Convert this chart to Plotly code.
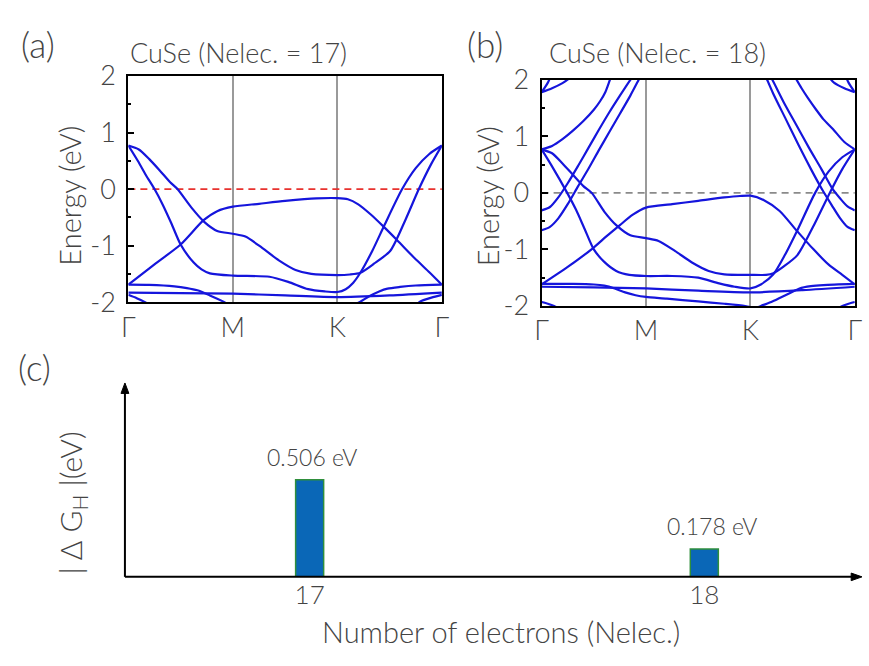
import plotly.graph_objects as go

W, H = 869, 666

# ---------------- data ----------------
# k-path positions (Γ=0, M=1, K=2, Γ=3), energies in eV
k_ticks = [0, 1, 2, 3]
k_labels = ["Γ", "M", "K", "Γ"]
e_ticks = [-2, -1, 0, 1, 2]
e_labels = ["-2", "-1", "0", "1", "2"]

# Panel (a): CuSe, Nelec = 17
a_R = [(0, -1.69), (0.25, -1.33), (0.5, -0.98), (0.72, -0.55), (0.85, -0.39), (1.0, -0.31), (1.25, -0.26),
       (1.5, -0.21), (1.8, -0.165), (2.0, -0.16), (2.1, -0.18), (2.2, -0.27), (2.32, -0.45), (2.44, -0.66),
       (2.57, -0.9), (2.76, -1.26), (2.88, -1.47), (3.0, -1.69)]
a_P = [(0, 0.77), (0.1, 0.70), (0.2, 0.53), (0.3, 0.33), (0.4, 0.12), (0.47, 0.0), (0.6, -0.32), (0.72, -0.57),
       (0.85, -0.74), (1.0, -0.79), (1.12, -0.84), (1.28, -1.04), (1.44, -1.26), (1.6, -1.43), (1.75, -1.50),
       (2.0, -1.52), (2.12, -1.51), (2.22, -1.48), (2.35, -1.32), (2.507, -1.09), (2.65, -0.55), (2.78, 0.0),
       (2.9, 0.45), (3.0, 0.77)]
a_Q = [(0, 0.77), (0.09, 0.50), (0.17, 0.24), (0.25, 0.0), (0.33, -0.28), (0.41, -0.60), (0.5, -0.98),
       (0.625, -1.30), (0.7, -1.42), (0.78, -1.49), (1.0, -1.53), (1.35, -1.55), (1.53, -1.64), (1.72, -1.77),
       (1.88, -1.81), (2.0, -1.82), (2.08, -1.77), (2.15, -1.66), (2.22, -1.48), (2.335, -1.09), (2.45, -0.64),
       (2.62, 0.0), (2.75, 0.37), (2.88, 0.62), (3.0, 0.77)]
a_B1 = [(0, -1.69), (0.2, -1.695), (0.44, -1.72), (0.56, -1.75), (0.66, -1.79), (0.78, -1.88), (0.91, -1.99),
        (0.96, -2.04)]
a_B2 = [(0, -1.83), (0.5, -1.84), (1.0, -1.85), (1.5, -1.88), (2.0, -1.91), (2.5, -1.88), (3.0, -1.83)]
a_B3 = [(0, -1.87), (0.08, -1.93), (0.16, -2.0), (0.2, -2.04)]
a_B4 = [(2.15, -2.05), (2.22, -1.99), (2.3, -1.9), (2.4, -1.81), (2.48, -1.76), (2.6, -1.73), (2.75, -1.705),
        (3.0, -1.69)]
a_B5 = [(2.75, -2.05), (2.79, -1.99), (2.9, -1.92), (3.0, -1.87)]

# Panel (b): CuSe, Nelec = 18
b_R = [(0, -1.62), (0.25, -1.31), (0.49, -0.98), (0.62, -0.77), (0.75, -0.57), (0.87, -0.39), (1.0, -0.26),
       (1.25, -0.2), (1.5, -0.14), (1.75, -0.08), (1.9, -0.055), (2.0, -0.05), (2.13, -0.13), (2.28, -0.32),
       (2.44, -0.66), (2.6, -0.99), (2.75, -1.27), (2.88, -1.45), (3.0, -1.62)]
b_P = [(0, 0.77), (0.1, 0.70), (0.2, 0.52), (0.3, 0.32), (0.4, 0.12), (0.48, 0.0), (0.6, -0.33), (0.72, -0.58),
       (0.85, -0.75), (1.0, -0.80), (1.12, -0.85), (1.28, -1.03), (1.44, -1.23), (1.6, -1.38), (1.75, -1.44),
       (2.0, -1.45), (2.15, -1.45), (2.22, -1.42), (2.32, -1.3), (2.45, -1.10), (2.6, -0.6), (2.76, 0.0),
       (2.88, 0.42), (3.0, 0.77)]
b_Q = [(0, 0.77), (0.09, 0.5), (0.245, 0.0), (0.33, -0.3), (0.41, -0.63), (0.5, -1.0), (0.6, -1.22),
       (0.715, -1.38), (0.84, -1.45), (1.0, -1.47), (1.25, -1.47), (1.5, -1.5), (1.7, -1.6), (1.85, -1.66),
       (2.0, -1.69), (2.1, -1.62), (2.22, -1.44), (2.33, -1.10), (2.45, -0.66), (2.62, 0.0), (2.75, 0.38),
       (2.88, 0.63), (3.0, 0.77)]
b_S1 = [(0, -0.31), (0.08, -0.25), (0.16, -0.08), (0.25, 0.17), (0.35, 0.48), (0.45, 0.8), (0.55, 1.12),
        (0.65, 1.43), (0.75, 1.72), (0.85, 2.0), (0.87, 2.05)]
b_S2 = [(0, -0.66), (0.08, -0.6), (0.16, -0.45), (0.25, -0.2), (0.35, 0.12), (0.45, 0.43), (0.55, 0.76),
        (0.65, 1.08), (0.75, 1.4), (0.85, 1.72), (0.93, 2.0), (0.95, 2.07)]
b_S1r = [(3.0, -0.31), (2.93, -0.24), (2.86, -0.1), (2.79, 0.06), (2.68, 0.42), (2.56, 0.8), (2.44, 1.2),
         (2.32, 1.6), (2.21, 2.0), (2.19, 2.06)]
b_S2r = [(3.0, -0.66), (2.93, -0.6), (2.86, -0.45), (2.78, -0.22), (2.69, 0.05), (2.58, 0.42), (2.46, 0.85),
         (2.34, 1.3), (2.22, 1.75), (2.16, 2.0), (2.14, 2.07)]
b_U1 = [(0, 0.77), (0.1, 0.83), (0.2, 0.95), (0.3, 1.1), (0.4, 1.27), (0.5, 1.47), (0.56, 1.62), (0.61, 1.78),
        (0.66, 2.03)]
b_U1r = [(3.0, 0.77), (2.9, 0.9), (2.79, 1.13), (2.7, 1.3), (2.63, 1.47), (2.55, 1.68), (2.49, 1.85),
         (2.43, 2.04)]
b_T1 = [(0, 1.78), (0.1, 1.85), (0.2, 1.94), (0.27, 2.03)]
b_T2 = [(0, 1.78), (0.03, 1.86), (0.06, 1.95), (0.08, 2.03)]
b_T1r = [(3.0, 1.78), (2.9, 1.85), (2.8, 1.95), (2.76, 2.03)]
b_T2r = [(3.0, 1.78), (2.97, 1.86), (2.94, 1.95), (2.92, 2.03)]
b_B1 = [(0, -1.61), (0.3, -1.61), (0.5, -1.62), (0.6, -1.64), (0.7, -1.69), (0.8, -1.76), (0.9, -1.81),
        (1.0, -1.84), (1.2, -1.87), (1.5, -1.92), (1.75, -1.96), (1.95, -2.0), (2.05, -2.04)]
b_B2 = [(0, -1.66), (0.5, -1.67), (1.0, -1.69), (1.5, -1.73), (2.0, -1.76), (2.5, -1.72), (3.0, -1.66)]
b_B3 = [(0, -1.93), (0.06, -1.96), (0.12, -2.0), (0.16, -2.04)]
b_B4 = [(2.05, -2.04), (2.1, -2.0), (2.2, -1.93), (2.28, -1.86), (2.38, -1.77), (2.47, -1.69), (2.58, -1.65),
        (2.7, -1.63), (3.0, -1.61)]
b_B5 = [(2.84, -2.04), (2.88, -2.0), (2.94, -1.96), (3.0, -1.93)]

bands_a = [a_R, a_P, a_Q, a_B1, a_B2, a_B3, a_B4, a_B5]
bands_b = [b_R, b_P, b_Q, b_S1, b_S2, b_S1r, b_S2r, b_U1, b_U1r, b_T1, b_T2, b_T1r, b_T2r,
           b_B1, b_B2, b_B3, b_B4, b_B5]

# Panel (c)
nelec = [17, 18]
dG = [0.506, 0.178]
dG_labels = ["0.506 eV", "0.178 eV"]

# ---------------- figure ----------------
def px(x):
    return x / W


def py(y):
    return 1 - y / H


FONT = "Lato, 'Open Sans', sans-serif"
TXT = "#444444"
BAND = "#1515dc"

fig = go.Figure()

# Fermi levels
fig.add_trace(go.Scatter(x=[0, 3], y=[0, 0], mode="lines", xaxis="x", yaxis="y",
                         line=dict(color="#e8322e", width=1.6, dash="7px,5px"), hoverinfo="skip",
                         showlegend=False))
fig.add_trace(go.Scatter(x=[0, 3], y=[0, 0], mode="lines", xaxis="x2", yaxis="y2",
                         line=dict(color="#8a8a8a", width=1.6, dash="7px,5px"), hoverinfo="skip",
                         showlegend=False))

for axes, bands in ((("x", "y"), bands_a), (("x2", "y2"), bands_b)):
    for band in bands:
        fig.add_trace(go.Scatter(x=[p[0] for p in band], y=[p[1] for p in band], mode="lines",
                                 xaxis=axes[0], yaxis=axes[1],
                                 line=dict(color=BAND, width=2.2, shape="spline", smoothing=0.7),
                                 hoverinfo="skip", showlegend=False))

fig.add_trace(go.Bar(x=nelec, y=dG, width=0.071, xaxis="x3", yaxis="y3",
                     marker=dict(color="#0a67b7", line=dict(color="#2f8f3c", width=1.5)),
                     showlegend=False, hoverinfo="skip"))

band_x = dict(range=[0, 3], tickvals=k_ticks, ticktext=k_labels, showgrid=True, gridcolor="#9a9a9a",
              gridwidth=1.5, showline=True, mirror=True, linecolor="black", linewidth=2, ticks="",
              zeroline=False, tickfont=dict(size=27, color=TXT, family=FONT, weight=300), fixedrange=True)
band_y = dict(range=[-2, 2], tickvals=e_ticks, ticktext=e_labels, showgrid=False, zeroline=False,
              showline=True, mirror=True, linecolor="black", linewidth=2, ticks="inside", ticklen=6,
              tickwidth=1.5, tickcolor="black", ticklabelstandoff=5,
              minor=dict(tickmode="linear", tick0=0, dtick=0.5, ticks="inside", ticklen=3, tickcolor="black",
                         tickwidth=1.5),
              tickfont=dict(size=27, color=TXT, family=FONT, weight=300), fixedrange=True)

fig.update_layout(
    width=W, height=H, autosize=False, margin=dict(l=0, r=0, t=0, b=0),
    paper_bgcolor="white", plot_bgcolor="white", showlegend=False,
    font=dict(family=FONT, color=TXT),
    xaxis=dict(band_x, domain=[px(123.5), px(442.5)], anchor="y"),
    yaxis=dict(band_y, domain=[py(299), py(61)], anchor="x"),
    xaxis2=dict(band_x, domain=[px(544), px(862.7)], anchor="y2"),
    yaxis2=dict(band_y, domain=[py(303), py(65)], anchor="x2"),
    xaxis3=dict(domain=[px(120), 1.0], range=[16.532, 18.397], tickvals=nelec,
                ticktext=[str(n) for n in nelec], showgrid=False, zeroline=False, showline=False, ticks="",
                tickfont=dict(size=26, color=TXT, family=FONT, weight=300), anchor="y3", fixedrange=True),
    yaxis3=dict(domain=[py(588), py(387)], range=[0.046, 0.952], showticklabels=False, showgrid=False,
                zeroline=False, showline=False, ticks="", anchor="x3", fixedrange=True),
)

ann = []


def txt(x, y, s, size, angle=0):
    ann.append(dict(x=px(x), y=py(y), xref="paper", yref="paper", text=s, showarrow=False,
                    font=dict(size=size, color=TXT, family=FONT, weight=300), textangle=angle,
                    xanchor="center", yanchor="middle"))


txt(32, 27, "(a)", 35)
txt(486, 27, "(b)", 35)
txt(28, 367, "(c)", 35)
txt(236, 36, "CuSe (Nelec. = 17)", 27)
txt(662, 36, "CuSe (Nelec. = 18)", 27)
txt(64, 187, "Energy (eV)", 29, -90)
txt(489, 188, "Energy (eV)", 29, -90)
txt(66, 510, "| Δ G<sub>H</sub> |(eV)", 30, -90)
txt(503, 645, "Number of electrons (Nelec.)", 29)

for n, v, lab, xs in zip(nelec, dG, dG_labels, [2, 8]):
    ann.append(dict(x=n, y=v, xref="x3", yref="y3", text=lab, showarrow=False, yanchor="bottom",
                    xanchor="center", yshift=7, xshift=xs,
                    font=dict(size=23, color=TXT, family=FONT, weight=300)))

fig.update_layout(annotations=ann)

# axis arrows of panel (c), drawn as shapes in paper coordinates
shapes = [
    dict(type="line", xref="paper", yref="paper", x0=px(120), y0=py(588), x1=px(120), y1=py(392),
         line=dict(color="black", width=2)),
    dict(type="path", xref="paper", yref="paper",
         path=f"M {px(116)} {py(395)} L {px(120)} {py(384)} L {px(124)} {py(395)} Z",
         fillcolor="black", line=dict(color="black", width=1)),
    dict(type="line", xref="paper", yref="paper", x0=px(120), y0=py(588), x1=px(862), y1=py(588),
         line=dict(color="black", width=2)),
    dict(type="path", xref="paper", yref="paper",
         path=f"M {px(859)} {py(584)} L {px(870)} {py(588)} L {px(859)} {py(592)} Z",
         fillcolor="black", line=dict(color="black", width=1)),
]
fig.update_layout(shapes=shapes)
fig.write_html("out.html")
